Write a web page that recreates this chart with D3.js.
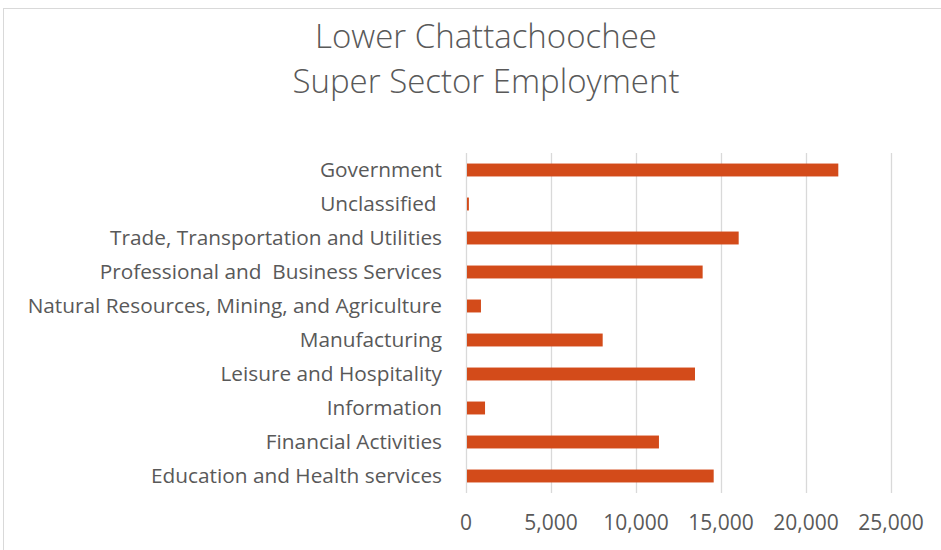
<!DOCTYPE html>
<html>
<head>
<meta charset="utf-8">
<script src="https://cdn.jsdelivr.net/npm/d3@7"></script>
<style>
  html, body { margin: 0; padding: 0; background: #fff; }
  svg { display: block; }
</style>
</head>
<body>
<svg id="chart" width="941" height="550"></svg>
<script>
const titleLines = ["Lower Chattachoochee", "Super Sector Employment"];
const categories = [
  "Government",
  "Unclassified ",
  "Trade, Transportation and Utilities",
  "Professional and  Business Services",
  "Natural Resources, Mining, and Agriculture",
  "Manufacturing",
  "Leisure and Hospitality",
  "Information",
  "Financial Activities",
  "Education and Health services"
];
const employment = [21900, 170, 16040, 13920, 880, 8040, 13470, 1120, 11350, 14570];
const tickValues = [0, 5000, 10000, 15000, 20000, 25000];

const svg = d3.select("#chart");
const font = "'Open Sans', 'Liberation Sans', sans-serif";
const textColor = "#595959";

// chart border
svg.append("rect")
  .attr("x", 3.5).attr("y", 8.5)
  .attr("width", 960).attr("height", 560)
  .attr("fill", "#fff").attr("stroke", "#d9d9d9").attr("stroke-width", 1);

// title
svg.append("g").selectAll("text").data(titleLines).join("text")
  .attr("x", 486)
  .attr("y", (d, i) => 48 + i * 45)
  .attr("text-anchor", "middle")
  .attr("font-family", font)
  .attr("font-weight", 300)
  .attr("font-size", 33)
  .attr("fill", textColor)
  .text(d => d);

const x = d3.scaleLinear().domain([0, 25000]).range([466, 891]);
const y = d3.scaleBand().domain(categories).range([153, 493])
  .paddingInner(0.62).paddingOuter(0.31);

// gridlines
svg.append("g").selectAll("line").data(tickValues).join("line")
  .attr("x1", d => x(d) + 0.5).attr("x2", d => x(d) + 0.5)
  .attr("y1", 153).attr("y2", 493)
  .attr("stroke", "#d9d9d9").attr("stroke-width", 1.3);

// bars
svg.append("g").selectAll("rect").data(categories).join("rect")
  .attr("x", x(0) + 1)
  .attr("y", d => y(d))
  .attr("width", (d, i) => x(employment[i]) - x(0) - 1)
  .attr("height", y.bandwidth())
  .attr("fill", "#d34b1a");

// category labels
svg.append("g").selectAll("text").data(categories).join("text")
  .attr("x", 442)
  .attr("y", d => y(d) + y.bandwidth() / 2)
  .attr("dy", "0.35em")
  .attr("text-anchor", "end")
  .attr("font-family", font)
  .attr("font-size", 20.8)
  .attr("fill", textColor)
  .attr("xml:space", "preserve")
  .style("white-space", "pre")
  .text(d => d);

// tick labels
svg.append("g").selectAll("text").data(tickValues).join("text")
  .attr("x", d => x(d))
  .attr("y", 523)
  .attr("dy", "0.35em")
  .attr("text-anchor", "middle")
  .attr("font-family", font)
  .attr("font-size", 21)
  .attr("fill", textColor)
  .text(d => d3.format(",")(d));
</script>
</body>
</html>
